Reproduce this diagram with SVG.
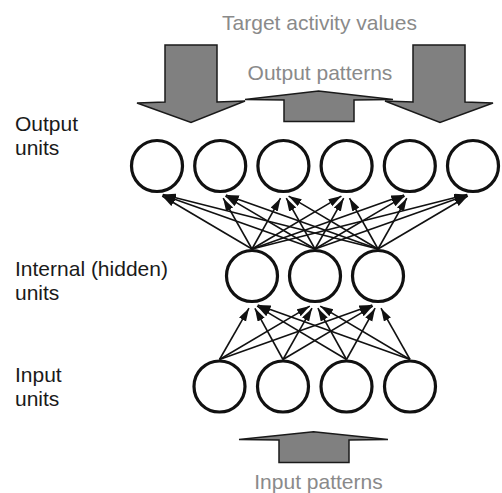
<svg xmlns="http://www.w3.org/2000/svg" width="502" height="493" viewBox="0 0 502 493">
<defs>
<style>
.unit{fill:#fff;stroke:#111;stroke-width:3.2}
.big{fill:#808080;stroke:#1a1a1a;stroke-width:1.5;stroke-linejoin:miter}
.lab{font-family:"Liberation Sans",Arial,sans-serif;font-size:21px;fill:#1a1a1a}
.gl{font-family:"Liberation Sans",Arial,sans-serif;font-size:21px;fill:#8a8a8a;text-anchor:middle}
.c{stroke:#111;stroke-width:1.6;fill:none;marker-end:url(#ah)}
</style>
<marker id="ah" markerUnits="userSpaceOnUse" markerWidth="14" markerHeight="9" refX="13" refY="4" orient="auto">
<path d="M0,0 L13,4 L0,8 z" fill="#111"/>
</marker>
</defs>
<rect width="502" height="493" fill="#fff"/>
<g id="labels">
<text class="gl" x="319.5" y="29.5">Target activity values</text>
<text class="gl" x="320" y="80">Output patterns</text>
<text class="gl" x="318.5" y="488.5">Input patterns</text>
<text class="lab" x="15" y="131">Output</text>
<text class="lab" x="15" y="155">units</text>
<text class="lab" x="15" y="276">Internal (hidden)</text>
<text class="lab" x="15" y="300">units</text>
<text class="lab" x="15" y="381.5">Input</text>
<text class="lab" x="15" y="405.5">units</text>
</g>
<g id="big-arrows">
<path id="target-left" class="big" d="M165,45 H217 V102 L245,101 L191,122.5 L137,103 L165,102 Z"/>
<path id="target-right" class="big" d="M413,45 H465 V102 L493,103 L440,122.5 L385,101 L413,102 Z"/>
<path id="output-patterns" class="big" d="M284,121.5 V100 L245,99.5 L318.5,91 L393,99.5 L354,100 V121.5 Z"/>
<path id="input-patterns" class="big" d="M279,462.5 V440 L239,439.5 L313.5,431.7 L388,439.5 L349,440 V462.5 Z"/>
</g>
<g id="connectors">
<line class="c" x1="252" y1="249" x2="162.2" y2="196"/>
<line class="c" x1="252" y1="249" x2="223.2" y2="198.2"/>
<line class="c" x1="252" y1="249" x2="280.5" y2="198.2"/>
<line class="c" x1="252" y1="249" x2="341.4" y2="196.1"/>
<line class="c" x1="252" y1="249" x2="404.1" y2="195"/>
<line class="c" x1="252" y1="249" x2="467.2" y2="194.5"/>
<line class="c" x1="315" y1="249" x2="162.7" y2="195"/>
<line class="c" x1="315" y1="249" x2="225.4" y2="196.1"/>
<line class="c" x1="315" y1="249" x2="286.3" y2="198.2"/>
<line class="c" x1="315" y1="249" x2="343.7" y2="198.2"/>
<line class="c" x1="315" y1="249" x2="404.6" y2="196.1"/>
<line class="c" x1="315" y1="249" x2="467.3" y2="195"/>
<line class="c" x1="378" y1="249" x2="162.8" y2="194.5"/>
<line class="c" x1="378" y1="249" x2="225.9" y2="195"/>
<line class="c" x1="378" y1="249" x2="288.6" y2="196.1"/>
<line class="c" x1="378" y1="249" x2="349.5" y2="198.2"/>
<line class="c" x1="378" y1="249" x2="406.8" y2="198.2"/>
<line class="c" x1="378" y1="249" x2="467.8" y2="196"/>
<line class="c" x1="219.5" y1="359.5" x2="249" y2="308.2"/>
<line class="c" x1="219.5" y1="359.5" x2="309.8" y2="306.1"/>
<line class="c" x1="219.5" y1="359.5" x2="372.3" y2="305"/>
<line class="c" x1="283" y1="359.5" x2="254.9" y2="308.3"/>
<line class="c" x1="283" y1="359.5" x2="312" y2="308.2"/>
<line class="c" x1="283" y1="359.5" x2="372.8" y2="306.1"/>
<line class="c" x1="346.5" y1="359.5" x2="257.1" y2="306.1"/>
<line class="c" x1="346.5" y1="359.5" x2="317.9" y2="308.2"/>
<line class="c" x1="346.5" y1="359.5" x2="375.1" y2="308.2"/>
<line class="c" x1="410" y1="359.5" x2="257.7" y2="305"/>
<line class="c" x1="410" y1="359.5" x2="320.2" y2="306.1"/>
<line class="c" x1="410" y1="359.5" x2="381" y2="308.2"/>
</g>
<g id="output-units">
<g id="out1"><circle class="unit" cx="157" cy="166" r="25.5"/></g>
<g id="out2"><circle class="unit" cx="220.2" cy="166" r="25.5"/></g>
<g id="out3"><circle class="unit" cx="283.4" cy="166" r="25.5"/></g>
<g id="out4"><circle class="unit" cx="346.6" cy="166" r="25.5"/></g>
<g id="out5"><circle class="unit" cx="409.8" cy="166" r="25.5"/></g>
<g id="out6"><circle class="unit" cx="473" cy="166" r="25.5"/></g>
</g>
<g id="hidden-units">
<g id="hid1"><circle class="unit" cx="252" cy="276" r="25.5"/></g>
<g id="hid2"><circle class="unit" cx="315" cy="276" r="25.5"/></g>
<g id="hid3"><circle class="unit" cx="378" cy="276" r="25.5"/></g>
</g>
<g id="input-units">
<g id="in1"><circle class="unit" cx="219.5" cy="386.5" r="25.5"/></g>
<g id="in2"><circle class="unit" cx="283" cy="386.5" r="25.5"/></g>
<g id="in3"><circle class="unit" cx="346.5" cy="386.5" r="25.5"/></g>
<g id="in4"><circle class="unit" cx="410" cy="386.5" r="25.5"/></g>
</g>
</svg>
